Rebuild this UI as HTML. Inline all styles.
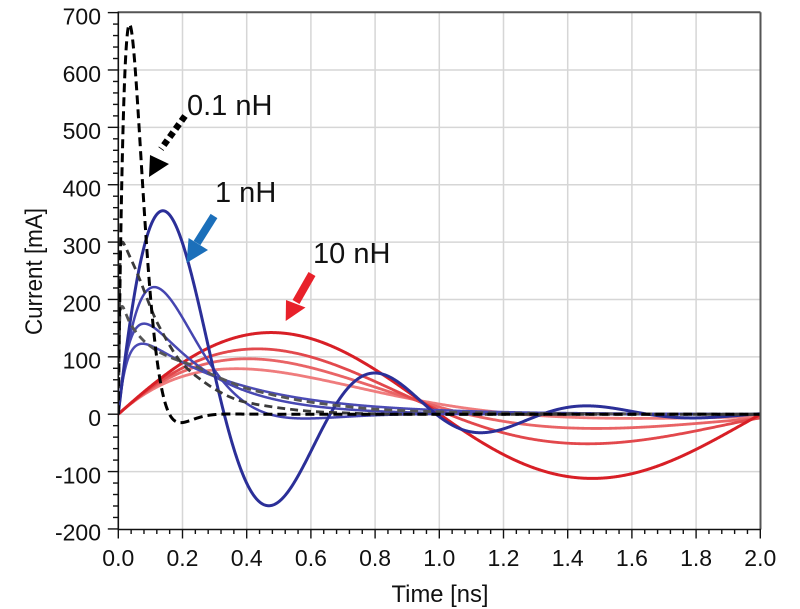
<!DOCTYPE html>
<html><head><meta charset="utf-8"><style>
html,body{margin:0;padding:0;background:#fff;}
svg{display:block;font-family:"Liberation Sans",Arial,sans-serif;}
</style></head><body>
<svg id="s" width="800" height="609" viewBox="0 0 800 609" xmlns="http://www.w3.org/2000/svg">
<rect width="800" height="609" fill="#fff"/>
<defs><clipPath id="pc"><rect x="118.3" y="12.3" width="642.2" height="517.2"/></clipPath></defs>
<g id="grid" stroke="#d6d6d6" stroke-width="1.5"></g>
<g id="curves" clip-path="url(#pc)" fill="none" stroke-linejoin="round"></g>
<line x1="118.3" y1="12.3" x2="760.5" y2="12.3" stroke="#555" stroke-width="2"/>
<line x1="760.5" y1="12.3" x2="760.5" y2="529.5" stroke="#555" stroke-width="2"/>
<line x1="118.3" y1="11.5" x2="118.3" y2="530" stroke="#111" stroke-width="1.6"/>
<line x1="117.5" y1="529.5" x2="761" y2="529.5" stroke="#111" stroke-width="1.6"/>
<g id="ticks" stroke="#111" stroke-width="1.4"></g>
<g id="labels" font-size="23" fill="#111"></g>
<text x="440" y="602" font-size="24" text-anchor="middle" fill="#111" textLength="97" lengthAdjust="spacingAndGlyphs">Time [ns]</text>
<text transform="translate(42,271.5) rotate(-90)" font-size="24" text-anchor="middle" fill="#111" textLength="127" lengthAdjust="spacingAndGlyphs">Current [mA]</text>
<!-- annotations -->
<line x1="185" y1="116" x2="161" y2="149" stroke="#000" stroke-width="6.5" stroke-dasharray="6 4"/>
<polygon points="150,155 169,164 149,177" fill="#000"/>
<line x1="214" y1="216" x2="197" y2="243" stroke="#1b6fba" stroke-width="8"/>
<polygon points="186.5,263 188.6,238 208,250" fill="#1b6fba"/>
<line x1="312" y1="274" x2="296" y2="302" stroke="#e8212a" stroke-width="8"/>
<polygon points="285.7,321 286,300 305.5,307.5" fill="#e8212a"/>
<text x="187" y="115" font-size="29" fill="#111">0.1 nH</text>
<text x="215" y="202" font-size="29" fill="#111">1 nH</text>
<text x="313" y="263" font-size="29" fill="#111">10 nH</text>
</svg>
<script>
(function(){
var NS="http://www.w3.org/2000/svg";
function X(t){return 118.3+321*t;}
function Y(i){return 414.2-0.5737*i;}
function el(parent,tag,attrs,txt){var e=document.createElementNS(NS,tag);for(var k in attrs)e.setAttribute(k,attrs[k]);if(txt!==undefined)e.textContent=txt;document.getElementById(parent).appendChild(e);return e;}
for(var k=1;k<10;k++){var x=X(k*0.2);el("grid","line",{x1:x,y1:12.3,x2:x,y2:529.5});}
for(var v=-100;v<=600;v+=100){var y=Y(v);el("grid","line",{x1:118.3,y1:y,x2:760.5,y2:y});}
for(var v=-200;v<=700;v+=20){var y=Y(v);var maj=(v%100===0);el("ticks","line",{x1:maj?107.8:113,y1:y,x2:118.3,y2:y});}
for(var k=0;k<=50;k++){var t=k*0.04;var x=X(t);var maj=(k%5===0);el("ticks","line",{x1:x,y1:529.5,x2:x,y2:maj?538.5:534});}
for(var v=-200;v<=700;v+=100){el("labels","text",{x:101,y:(Y(v)+11.8).toFixed(1),"text-anchor":"end"},String(v));}
for(var k=0;k<=10;k++){el("labels","text",{x:X(k*0.2).toFixed(1),y:566,"text-anchor":"middle"},(k*0.2).toFixed(1));}
function fn(f,dt){dt=dt||0.002;var d="";var n=Math.round(2/dt);for(var k=0;k<=n;k++){var t=k*dt;d+=(k?"L":"M")+X(t).toFixed(2)+","+Y(f(t)).toFixed(2);}return d;}
function cr(p){var d="M"+p[0][0]+","+p[0][1];var n=p.length;for(var i=0;i<n-1;i++){var p0=p[Math.max(i-1,0)],p1=p[i],p2=p[i+1],p3=p[Math.min(i+2,n-1)];var c1x=p1[0]+(p2[0]-p0[0])/6,c1y=p1[1]+(p2[1]-p0[1])/6,c2x=p2[0]-(p3[0]-p1[0])/6,c2y=p2[1]-(p3[1]-p1[1])/6;d+="C"+c1x.toFixed(2)+","+c1y.toFixed(2)+" "+c2x.toFixed(2)+","+c2y.toFixed(2)+" "+p2[0]+","+p2[1];}return d;}
function ds(A,a,w){return function(t){return A*Math.exp(-a*t)*Math.sin(w*t);};}
function od(A,r1,r2){return function(t){return A*(Math.exp(-r1*t)-Math.exp(-r2*t));};}
function path(d,stroke,w,dash){var a={d:d,stroke:stroke,"stroke-width":w};if(dash)a["stroke-dasharray"]=dash;el("curves","path",a);}
path(fn(ds(200,1.9,2.51)),"#ef7c7d",2.8);
path(fn(ds(174,1.25,2.89)),"#e96466",2.8);
path(fn(ds(164,0.77,3.054)),"#e2484c",2.8);
path(fn(ds(160,0.24,3.14)),"#d81f26",3);
path(fn(od(172,3.2,35),0.001),"#4b4bb5",2.5);
path(fn(od(295,5,25),0.001),"#4848b2",2.5);
path(fn(ds(730,7.2,6.675),0.001),"#4545b0",2.5);
path(fn(ds(512,2.42,9.52),0.001),"#2b2f98",3);
var G2=[[118.3,414.2],[119,360],[119.8,318],[121,308],[123,307],[126,314],[130,323],[136,332],[143,340],[150,346],[160,352.5],[177,360],[197,367],[213,375],[230,382],[247,388.5],[280,396.5],[313,402.5],[347,406.5],[380,409.5],[440,411.8],[520,413.2],[600,413.8],[760,414.2]];
var G1=[[118.3,414.2],[119.2,330],[120,262],[121,246],[122.5,242],[125,246],[130,257],[135,268],[140,280],[145,293],[150,306],[155,318],[160,328],[170,346],[180,361],[190,371],[200,379],[213,388],[230,397],[247,402.5],[280,408],[313,411.5],[347,413],[380,414],[450,414.3],[760,414.3]];
path(cr(G2),"#555",2.8,"8 5");
path(cr(G1),"#3a3a3a",2.8,"8 5");
path(fn(ds(2474,24,19.7),0.0004),"#000",3,"9 5");
})();
</script>
</body></html>
